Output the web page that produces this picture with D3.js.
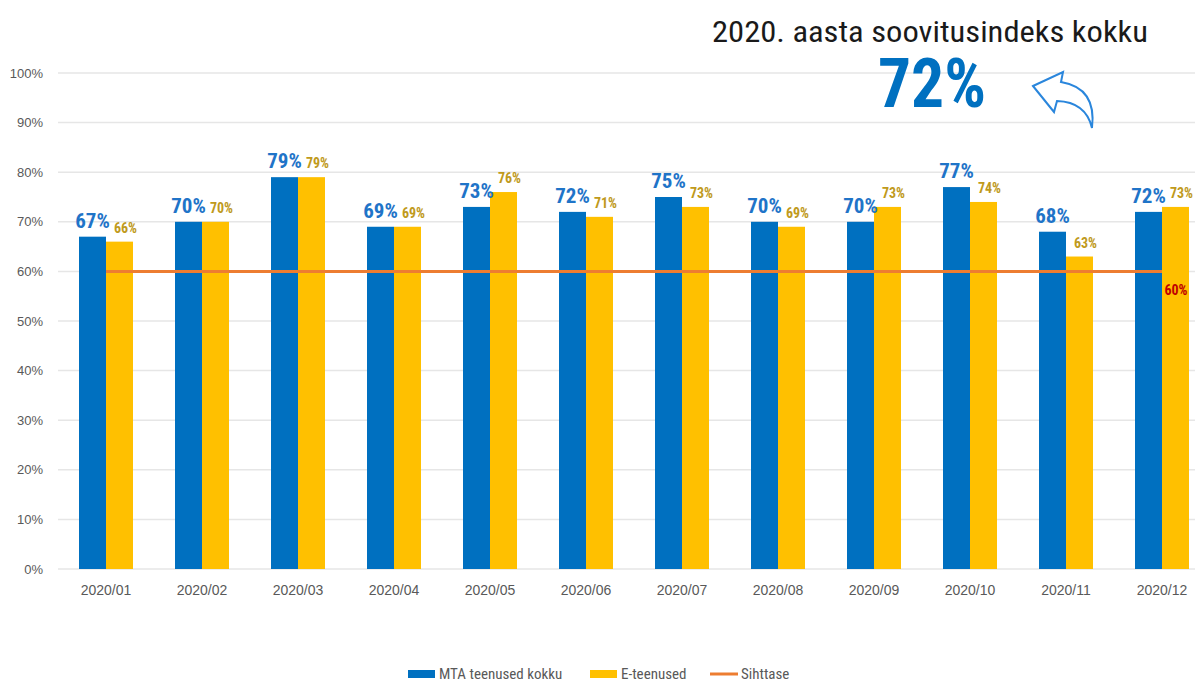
<!DOCTYPE html>
<html>
<head>
<meta charset="utf-8">
<script src="https://cdn.jsdelivr.net/npm/d3@7"></script>
<style>
  body { margin: 0; background: #fff; }
  svg { display: block; font-family: "Roboto Condensed", "Liberation Sans Narrow", Roboto, sans-serif; }
</style>
</head>
<body>
<div id="chart"></div>
<script>
const months = ["2020/01", "2020/02", "2020/03", "2020/04", "2020/05", "2020/06",
                "2020/07", "2020/08", "2020/09", "2020/10", "2020/11", "2020/12"]
const mtaTotal = [67, 70, 79, 69, 73, 72, 75, 70, 70, 77, 68, 72]
const eServices = [66, 70, 79, 69, 76, 71, 73, 69, 73, 74, 63, 73]
const targetLevel = 60
const yearIndex = 72
const yTicks = [0, 10, 20, 30, 40, 50, 60, 70, 80, 90, 100]
const seriesNames = ["MTA teenused kokku", "E-teenused", "Sihttase"]

const width = 1195, height = 684
const colors = { mta: "#0070c0", e: "#ffc000", target: "#ed7d31" }

const svg = d3.select("#chart").append("svg")
    .attr("width", width)
    .attr("height", height)

const x0 = d3.scaleBand()
    .domain(months)
    .range([58, 1210])
    .paddingInner(0.4375)
    .paddingOuter(0.21875)

const x1 = d3.scaleBand()
    .domain(["mta", "e"])
    .range([0, x0.bandwidth()])

const y = d3.scaleLinear()
    .domain([0, 100])
    .range([569, 73])

// grid lines
svg.append("g")
    .selectAll("line")
    .data(yTicks)
    .enter()
    .append("line")
    .attr("x1", 58)
    .attr("x2", width)
    .attr("y1", d => y(d))
    .attr("y2", d => y(d))
    .attr("stroke", "#e6e6e6")
    .attr("stroke-width", 1.5)

// y axis labels
const yAxis = svg.append("g")
    .attr("transform", "translate(43,0)")
    .call(d3.axisLeft(y).tickValues(yTicks).tickFormat(d => d + "%").tickSize(0).tickPadding(0))
yAxis.select(".domain").remove()
yAxis.selectAll("text")
    .attr("fill", "#595959")
    .style("font-size", "13px")
    .style("font-family", "inherit")

// x axis labels
const xAxis = svg.append("g")
    .attr("transform", "translate(0,585)")
    .call(d3.axisBottom(x0).tickSize(0).tickPadding(0))
xAxis.select(".domain").remove()
xAxis.selectAll("text")
    .attr("fill", "#595959")
    .style("font-size", "14px")
    .style("font-family", "inherit")

const rows = months.map((m, i) => ({ month: m, mta: mtaTotal[i], e: eServices[i] }))

const groups = svg.append("g")
    .selectAll("g")
    .data(rows)
    .enter()
    .append("g")
    .attr("transform", d => "translate(" + x0(d.month) + ",0)")

groups.selectAll("rect")
    .data(d => [{ key: "mta", value: d.mta }, { key: "e", value: d.e }])
    .enter()
    .append("rect")
    .attr("x", d => x1(d.key))
    .attr("width", x1.bandwidth())
    .attr("y", d => y(d.value))
    .attr("height", d => y(0) - y(d.value))
    .attr("fill", d => colors[d.key])

// target line
const firstC = x0(months[0]) + x0.bandwidth() / 2
const lastC = x0(months[months.length - 1]) + x0.bandwidth() / 2
svg.append("line")
    .attr("x1", firstC)
    .attr("x2", lastC)
    .attr("y1", y(targetLevel))
    .attr("y2", y(targetLevel))
    .attr("stroke", colors.target)
    .attr("stroke-width", 3)

svg.append("text")
    .attr("x", lastC + 14)
    .attr("y", y(targetLevel) + 24)
    .attr("text-anchor", "middle")
    .attr("fill", "#c00000")
    .style("font-size", "14px")
    .style("font-weight", "bold")
    .text(targetLevel + "%")

// value labels
groups.append("text")
    .attr("x", x1("mta") + x1.bandwidth() / 2)
    .attr("y", d => y(d.mta) - 9)
    .attr("text-anchor", "middle")
    .attr("fill", "#1f74c8")
    .style("font-size", "21px")
    .style("font-weight", "bold")
    .text(d => d.mta + "%")

groups.append("text")
    .attr("x", x1("e") + x1.bandwidth() / 2 + 6)
    .attr("y", d => y(d.e) - 9)
    .attr("text-anchor", "middle")
    .attr("fill", "#c09a1c")
    .style("font-size", "14px")
    .style("font-weight", "bold")
    .text(d => d.e + "%")

// title block
svg.append("text")
    .attr("x", 712)
    .attr("y", 42)
    .attr("fill", "#1a1a1a")
    .attr("textLength", 436)
    .attr("lengthAdjust", "spacingAndGlyphs")
    .style("font-size", "29px")
    .text("2020. aasta soovitusindeks kokku")

svg.append("text")
    .attr("x", 878)
    .attr("y", 107)
    .attr("fill", "#0070c0")
    .attr("textLength", 108)
    .attr("lengthAdjust", "spacingAndGlyphs")
    .style("font-size", "69px")
    .style("font-weight", "bold")
    .text(yearIndex + "%")

// curved arrow
svg.append("path")
    .attr("d", "M1033,86 L1063,72 L1061,82 Q1097,88 1092,128 Q1086,102 1057,101 L1054,112 Z")
    .attr("fill", "#fff")
    .attr("stroke", "#2a86dc")
    .attr("stroke-width", 2)
    .attr("stroke-linejoin", "miter")

// legend
const legendItems = [
    { name: seriesNames[0], color: colors.mta, type: "rect", x: 408 },
    { name: seriesNames[1], color: colors.e, type: "rect", x: 590 },
    { name: seriesNames[2], color: colors.target, type: "line", x: 710 }
]
const legend = svg.append("g")
    .selectAll("g")
    .data(legendItems)
    .enter()
    .append("g")
    .attr("transform", d => "translate(" + d.x + ",674)")

legend.filter(d => d.type == "rect")
    .append("rect")
    .attr("x", 0)
    .attr("y", -4)
    .attr("width", 27)
    .attr("height", 8)
    .attr("fill", d => d.color)

legend.filter(d => d.type == "line")
    .append("line")
    .attr("x1", 0)
    .attr("x2", 28)
    .attr("y1", 0)
    .attr("y2", 0)
    .attr("stroke", d => d.color)
    .attr("stroke-width", 3)

legend.append("text")
    .attr("x", 31)
    .attr("y", 5)
    .attr("fill", "#595959")
    .style("font-size", "15px")
    .text(d => d.name)
</script>
</body>
</html>
